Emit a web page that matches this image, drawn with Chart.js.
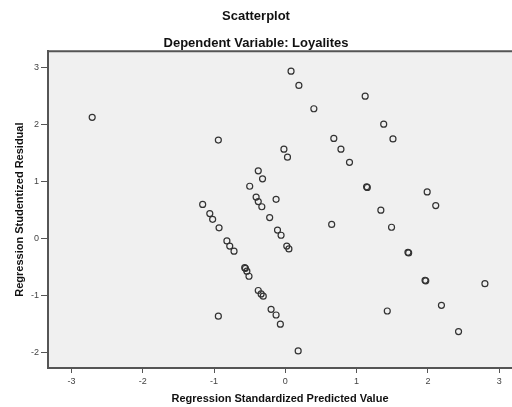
<!DOCTYPE html>
<html>
<head>
<meta charset="utf-8">
<script src="https://cdn.jsdelivr.net/npm/chart.js@4/dist/chart.umd.min.js"></script>
<style>
  html, body { margin: 0; padding: 0; background: #fff; }
  #wrap { width: 512px; height: 407px; }
</style>
</head>
<body>
<div id="wrap"><canvas id="scatter" width="512" height="407"></canvas></div>
<script>
// Values
const predicted = [
  -2.71, -0.94, -0.94, -1.16, -1.06, -1.02, -0.93, -0.82, -0.78, -0.72,
  -0.57, -0.56, -0.54, -0.51, -0.38, -0.34, -0.31, -0.20, -0.13, -0.07,
  0.18, -0.50, -0.41, -0.38, -0.33, -0.22, -0.11, -0.06, 0.02, 0.05,
  -0.38, -0.32, -0.13, -0.02, 0.03, 0.08, 0.19, 0.40, 0.68, 0.78,
  0.90, 1.14, 1.15, 1.34, 1.49, 1.72, 1.73, 1.96, 1.97, 2.19,
  2.43, 1.12, 1.38, 1.51, 1.99, 2.11, 0.65, 1.43, 2.80
];
const residual = [
  2.12, 1.72, -1.37, 0.59, 0.43, 0.33, 0.18, -0.05, -0.14, -0.23,
  -0.52, -0.53, -0.58, -0.67, -0.92, -0.98, -1.02, -1.25, -1.35, -1.51,
  -1.98, 0.91, 0.72, 0.64, 0.55, 0.36, 0.14, 0.05, -0.14, -0.19,
  1.18, 1.04, 0.68, 1.56, 1.42, 2.93, 2.68, 2.27, 1.75, 1.56,
  1.33, 0.90, 0.89, 0.49, 0.19, -0.25, -0.26, -0.74, -0.75, -1.18,
  -1.64, 2.49, 2.00, 1.74, 0.81, 0.57, 0.24, -1.28, -0.80
];

const points = predicted.map((x, i) => ({ x: x, y: residual[i] }));

// grey plot background and top frame line
const plotFrame = {
  id: 'plotFrame',
  beforeDraw(chart) {
    const { ctx, chartArea: a } = chart;
    ctx.save();
    ctx.fillStyle = '#f0f0f0';
    ctx.fillRect(a.left, a.top, a.right - a.left, a.bottom - a.top);
    ctx.strokeStyle = '#555';
    ctx.lineWidth = 2;
    ctx.beginPath();
    ctx.moveTo(a.left, a.top);
    ctx.lineTo(a.right, a.top);
    ctx.stroke();
    ctx.restore();
  }
};

const fontFamily = '"Liberation Sans", Arial, sans-serif';

const ctx = document.getElementById('scatter').getContext('2d');
const scatterChart = new Chart(ctx, {
  type: 'scatter',
  data: {
    datasets: [{
      data: points,
      pointStyle: 'circle',
      pointRadius: 3,
      pointHoverRadius: 3,
      pointBorderWidth: 1.2,
      borderColor: '#333',
      backgroundColor: 'rgba(0,0,0,0)',
    }],
  },
  options: {
    responsive: false,
    animation: false,
    layout: { padding: 0, autoPadding: false },
    plugins: {
      legend: { display: false },
      tooltip: { enabled: false },
      title: {
        display: true,
        text: 'Scatterplot',
        color: '#111',
        font: { family: fontFamily, size: 13, weight: 'bold', lineHeight: 1.2 },
        padding: { top: 9, bottom: 11 },
      },
      subtitle: {
        display: true,
        text: 'Dependent Variable: Loyalites',
        color: '#111',
        font: { family: fontFamily, size: 13, weight: 'bold', lineHeight: 1.2 },
        padding: { top: 0, bottom: 0 },
      },
    },
    scales: {
      x: {
        type: 'linear',
        min: -3.33,
        max: 3.18,
        afterFit(scale) { scale.height = 39; },
        ticks: {
          stepSize: 1,
          includeBounds: false,
          color: '#444',
          padding: 3,
          font: { family: fontFamily, size: 9 },
        },
        grid: {
          drawOnChartArea: false,
          drawTicks: true,
          tickLength: 5,
          tickColor: '#555',
        },
        border: { display: true, color: '#555', width: 2 },
        title: {
          display: true,
          text: 'Regression Standardized Predicted Value',
          color: '#111',
          font: { family: fontFamily, size: 11, weight: 'bold', lineHeight: 1.2 },
          padding: { top: 0, bottom: 1 },
        },
      },
      y: {
        type: 'linear',
        min: -2.28,
        max: 3.28,
        afterFit(scale) { scale.width = 48; },
        ticks: {
          stepSize: 1,
          includeBounds: false,
          color: '#444',
          padding: 2,
          font: { family: fontFamily, size: 9 },
        },
        grid: {
          drawOnChartArea: false,
          drawTicks: true,
          tickLength: 7,
          tickColor: '#555',
        },
        border: { display: true, color: '#555', width: 2 },
        title: {
          display: true,
          text: 'Regression Studentized Residual',
          color: '#111',
          font: { family: fontFamily, size: 11, weight: 'bold', lineHeight: 1.2 },
          padding: { top: 13, bottom: 0 },
        },
      },
    },
  },
  plugins: [plotFrame],
});
</script>
</body>
</html>
